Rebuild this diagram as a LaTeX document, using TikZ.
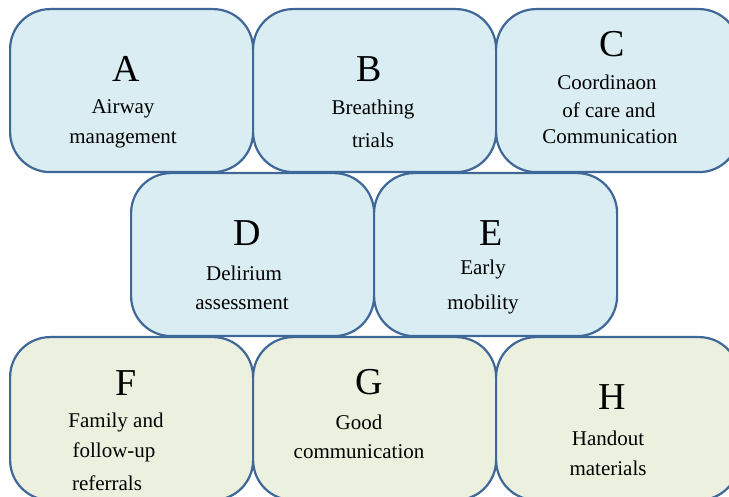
\documentclass[tikz,border=0pt]{standalone}
\usepackage{fontspec}
\setmainfont{Liberation Serif}
\definecolor{bluefill}{HTML}{DAEDF3}
\definecolor{greenfill}{HTML}{EBF1DE}
\definecolor{edgeblue}{HTML}{3F6797}
\tikzset{
  card/.style={draw=edgeblue, line width=2.2pt, rounded corners=40pt, minimum width=243pt, minimum height=163pt, inner sep=0pt, anchor=north west},
  bluecard/.style={card, fill=bluefill},
  greencard/.style={card, fill=greenfill},
  letter/.style={font=\fontsize{38}{40}\selectfont, inner sep=0pt},
  label/.style={font=\fontsize{21}{24}\selectfont, inner sep=0pt}
}
\begin{document}
\begin{tikzpicture}[x=1pt,y=-1pt]
\useasboundingbox (0,0) rectangle (729,497);
\clip (0,0) rectangle (729,497);
\fill[white] (0,0) rectangle (729,497);
% row 1
\node[bluecard] (boxA) at (9,8) {};
\node[bluecard] (boxB) at (252,8) {};
\node[bluecard] (boxC) at (495,8) {};
% row 2
\node[bluecard] (boxD) at (130,172) {};
\node[bluecard] (boxE) at (373,172) {};
% row 3
\node[greencard] (boxF) at (9,336) {};
\node[greencard] (boxG) at (252,336) {};
\node[greencard] (boxH) at (495,336) {};
% texts
\node[letter] (lA) at (126,69) {A};
\node[label] (tA1) at (123,109) {Airway};
\node[label] (tA2) at (123,140) {management};
\node[letter] (lB) at (369,69) {B};
\node[label] (tB1) at (373,109) {Breathing};
\node[label] (tB2) at (373,140) {trials};
\node[letter] (lC) at (612,44) {C};
\node[label] (tC1) at (607,82) {Coordinaon};
\node[label] (tC2) at (609,110) {of care and};
\node[label] (tC3) at (610,137) {Communication};
\node[letter] (lD) at (247,233) {D};
\node[label] (tD1) at (244,273) {Delirium};
\node[label] (tD2) at (242,304) {assessment};
\node[letter] (lE) at (491,233) {E};
\node[label] (tE1) at (483,269) {Early};
\node[label] (tE2) at (483,304) {mobility};
\node[letter] (lF) at (126,383) {F};
\node[label] (tF1) at (116,422) {Family and};
\node[label] (tF2) at (114,452) {follow-up};
\node[label] (tF3) at (107,483) {referrals};
\node[letter] (lG) at (369,382) {G};
\node[label] (tG1) at (359,422) {Good};
\node[label] (tG2) at (359,452) {communication};
\node[letter] (lH) at (612,397) {H};
\node[label] (tH1) at (608,438) {Handout};
\node[label] (tH2) at (608,468) {materials};
\end{tikzpicture}
\end{document}
